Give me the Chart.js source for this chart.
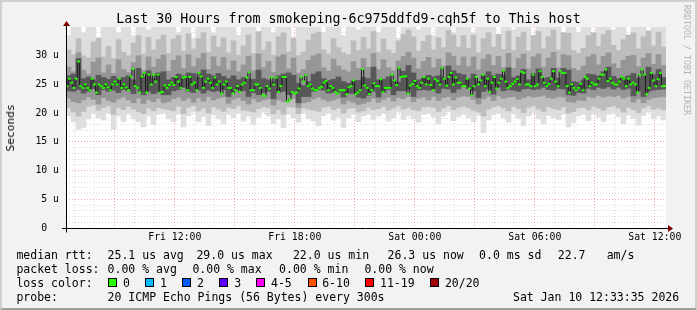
<!DOCTYPE html>
<html><head><meta charset="utf-8">
<script src="https://cdn.jsdelivr.net/npm/chart.js@4/dist/chart.umd.min.js"></script>
<style>
html,body{margin:0;padding:0;background:#f2f2f2;}
#wrap{position:relative;width:697px;height:310px;overflow:hidden;background:#f2f2f2;font-family:'DejaVu Sans Mono',monospace;color:#000;}
#c{position:absolute;left:0;top:0;}
#frame{position:absolute;left:0;top:0;width:697px;height:310px;box-sizing:border-box;border-top:2px solid #cfcfcf;border-left:2px solid #cfcfcf;border-right:2px solid #cfcfcf;border-bottom:2px solid #9e9e9e;pointer-events:none;}
.t{position:absolute;white-space:pre;font-size:11.5px;line-height:14px;}
#title{position:absolute;left:0;top:11px;width:697px;text-align:center;font-size:13.3px;line-height:16px;white-space:pre;}
#unit{position:absolute;left:11px;top:128px;font-size:11.2px;line-height:14px;white-space:pre;transform:translate(-50%,-50%) rotate(-90deg);}
#wm{position:absolute;left:682px;top:5px;font-size:8.3px;line-height:10px;writing-mode:vertical-rl;color:#b4b4b4;white-space:pre;}
.box{position:absolute;width:7px;height:7px;border:1px solid #000;}
</style></head>
<body>
<div id="wrap">
<canvas id="c" width="697" height="310"></canvas>
<div id="title">Last 30 Hours from smokeping-6c975ddfd9-cqh5f to This host</div>
<div id="unit">Seconds</div>
<div id="wm">RRDTOOL / TOBI OETIKER</div>
<div id="legend"></div>
<div id="frame"></div>
</div>
<script>
// ---- data ----
const startHour = 6 + 33/60 + 35/3600;   // Fri 06:33:35, hours since Fri 00:00
const spanHours = 30;
const xTickHours = [12, 18, 24, 30, 36];
const xTickLabels = ['Fri 12:00', 'Fri 18:00', 'Sat 00:00', 'Sat 06:00', 'Sat 12:00'];
const yTickValues = [0, 5, 10, 15, 20, 25, 30];
const yTickLabels = ['0  ', '5 u', '10 u', '15 u', '20 u', '25 u', '30 u'];

// median rtt (microseconds)
const medianRtt = [
 24.7,26.0,25.3,24.4,26.0,29.0,24.7,24.4,25.0,24.4,24.0,26.0,25.0,23.6,25.0,24.7,24.4,25.0,24.5,24.0,25.0,25.5,25.0,26.0,24.4,25.0,24.5,24.0,26.4,27.7,24.7,24.4,23.6,26.4,27.0,23.6,26.7,25.0,26.7,25.5,26.7,23.6,
 23.7,24.8,24.4,24.9,25.3,24.9,26.3,25.5,24.4,26.2,26.3,24.0,26.3,25.0,25.3,24.0,27.0,26.4,24.4,25.5,26.0,25.3,24.4,26.2,25.0,25.5,23.4,25.0,25.5,24.4,24.4,23.4,24.0,24.7,23.7,25.0,25.3,26.2,27.1,24.0,24.0,25.0,
 25.0,24.4,23.1,23.0,24.7,24.3,26.2,25.0,26.2,23.7,24.7,26.3,26.3,22.0,22.4,23.7,23.4,23.6,24.3,26.3,25.5,26.6,24.7,25.0,24.3,24.0,24.0,24.4,24.6,25.3,25.6,24.0,24.7,24.4,23.7,23.4,24.0,24.0,24.0,23.3,24.5,24.7,25.7,23.3,
 23.6,24.0,27.7,24.8,24.4,23.3,24.0,25.2,24.7,24.7,25.9,23.7,24.4,24.4,24.4,26.7,25.7,24.9,27.9,26.3,26.4,26.4,23.4,24.8,25.1,25.6,24.7,24.4,25.3,26.3,25.0,26.0,24.9,24.0,25.9,25.6,25.0,27.9,26.0,24.8,26.3,27.0,25.0,26.2,25.3,
 25.3,24.7,24.7,26.0,24.3,23.1,24.7,26.3,25.0,25.7,26.7,24.7,26.0,23.7,25.3,26.3,24.3,25.3,26.0,27.4,25.5,24.4,24.7,25.1,25.5,25.9,25.0,27.2,27.0,25.0,25.0,24.7,26.7,24.7,25.0,27.3,26.3,25.3,24.7,25.1,26.0,27.3,25.5,24.7,27.3,27.0,
 27.0,24.7,23.6,25.0,24.4,24.0,24.4,25.1,24.0,26.3,26.0,24.7,25.3,25.0,25.0,26.0,26.7,26.7,27.6,25.6,26.0,25.3,25.0,25.0,25.5,26.3,26.0,24.7,26.0,25.0,25.3,25.0,23.6,26.7,27.6,26.7,23.3,24.4,27.0,25.7,24.7,25.9,27.0,24.7,24.7
];

// smoke (spread of the 20 pings), 15-minute columns
const smokeMax = [
 33.5,36,36,34,36,36,33,36,36,35,34,36,36,33.5,36,36,34.5,36,36,36,
 36,36,34,36,36,33,36,36,36,34,36,36,35,36,33.5,36,36,36,34,36,
 36,34,36,36,36,33,36,36,35,36,36,34,36,36,36,33.5,36,36,34.5,36,
 36,36,34,36,36,36,33,36,36,36,34.5,36,36,33.5,36,36,36,34,36,36,
 36,34,36,36,36,36,33,36,36,34.5,36,36,36,33.5,36,36,35,36,36,34,
 36,36,34,36,36,33.5,36,36,36,34.5,36,36,33,36,36,36,34,36,36,35
];
const smokeHi2 = [
 31.0,30.2,33.0,30.0,29.6,32.4,33.1,29.8,31.6,29.5,32.8,30.6,30.0,32.2,33.5,30.3,33.2,31.0,32.8,33.6,
 30.4,32.9,33.5,30.8,33.8,31.2,33.0,34.0,30.6,33.4,31.5,33.1,30.5,32.6,30.1,31.7,33.6,30.4,34.2,31.0,
 32.4,30.1,33.3,34.0,30.7,33.1,30.0,30.6,32.7,33.8,34.1,31.0,30.3,33.0,31.4,30.5,30.2,32.6,30.9,33.2,
 31.2,34.2,30.6,32.9,31.0,30.4,32.6,33.7,34.5,33.3,30.8,32.5,33.5,31.0,33.1,31.4,34.4,33.6,31.5,33.5,
 31.3,33.6,30.5,33.0,34.0,31.5,33.7,31.1,34.3,30.9,33.2,34.1,30.8,33.5,34.2,31.2,33.3,34.5,31.0,34.0,
 33.9,30.9,30.4,31.3,33.5,34.0,31.6,33.7,34.4,31.8,30.9,32.8,33.6,34.0,31.2,33.3,34.3,31.7,34.1,31.5
];
const smokeHi3 = [
 28.0,27.2,30.5,27.5,26.8,28.9,29.6,27.0,28.4,26.9,29.3,27.6,27.1,28.8,30.0,27.4,29.8,28.0,29.4,30.1,
 27.3,29.2,30.0,27.8,30.2,28.1,29.5,30.4,27.6,29.8,28.2,29.7,27.5,29.1,27.2,28.4,29.9,27.4,30.3,27.9,
 29.0,27.1,29.8,30.2,27.7,29.6,27.0,27.6,29.2,30.0,30.3,27.9,27.3,29.4,28.2,27.5,27.2,29.0,27.8,29.5,
 28.0,30.4,27.6,29.3,27.9,27.4,29.1,29.9,30.6,29.6,27.7,29.0,29.7,27.9,29.4,28.2,30.5,29.9,28.3,29.8,
 28.1,29.8,27.5,29.4,30.2,28.3,29.9,27.9,30.4,27.8,29.5,30.3,27.7,29.8,30.3,28.0,29.6,30.6,27.9,30.2,
 30.0,27.8,27.4,28.2,29.8,30.2,28.4,29.9,30.5,28.6,27.8,29.2,29.9,30.1,28.1,29.6,30.4,28.5,30.2,28.3
];
const smokeHi4 = [
 26.5,26.8,29.5,26,26.3,25.8,26.6,26.2,25.9,26.4,26,26.2,26.5,25.8,27.8,26.3,27.4,26,27,27.2,
 25.8,26.2,26.8,26.5,27,26.9,26.3,27.5,26.8,26.5,26.9,26.4,26,26.5,25.8,26.2,26,25.9,27.5,26,
 25.8,25.4,26.5,26.8,27,26.6,25.2,24.8,25.5,26.8,27.2,26,25.7,25.9,26.3,25.5,25.2,25.6,25.7,26.2,
 26,28,25.8,25.9,26.3,25.6,25.4,27.3,28.3,27,25.8,26,26.6,26.3,26.5,26.2,28.2,27.4,26.9,26.7,
 26,26.8,25.5,26.4,27.2,26.5,26.8,26.6,27.9,26.2,26.5,27.6,25.8,26.9,27.7,26,26.2,27.8,26.1,27.8,
 27.5,25.5,25.3,25.8,26.8,26.7,26.4,27.2,28,26.4,26,26.2,26.5,26.9,26.1,26.7,28,26.7,27.6,26.2
];
const smokeLo4 = [
 23.9,23.8,24.1,23.5,23.8,24.2,23.2,24.1,23.8,24,23.6,24.1,23.9,23.4,24.2,23.2,23.8,23.4,23.7,23.2,
 23.2,23.9,24.1,24.5,23.8,23.6,24,23.5,24,23.8,23.9,24.1,22.9,23.8,24.1,23.9,22.9,23.6,23.2,23.6,
 23.8,22.5,23.6,23.8,23.2,23.8,21.8,22.9,22.9,23.8,24.2,24,23.5,23.6,23.8,22.8,23.5,23.4,22.8,22.6,
 23.1,23.8,22.8,23.6,24.1,23.2,23.9,23.9,24.1,22.9,24,24.1,24,24.3,23.5,24.3,24.2,23.6,24.2,24.6,
 24.3,23.9,22.7,23.8,24.2,23.3,24.5,23.9,24.1,24,23.8,24.2,24.3,24.1,24.2,24.5,24.1,24,24.3,24.2,
 23.2,23.1,23.6,23.5,24.3,24.1,24.5,24.3,24.6,24.2,24.5,24.1,24.3,23,23.9,22.9,23.8,24,24.1,24.2
];
const smokeLo3 = [
 22.6,22,21.8,22.3,22.8,22.4,21.6,22.7,22.2,21.9,22.5,22.8,22.3,21.8,22.6,21.7,22.4,22,22.6,21.8,
 22,22.5,22.8,22.2,22.6,21.9,22.7,22.1,22.9,22.3,22.6,22.8,21.7,22.4,22.7,22.2,21.6,22.5,22,22.3,
 22.5,21.4,22.3,22,22.4,22.6,21,21.8,22,22.5,22.8,22.4,22.1,22.3,22.6,21.6,22.2,21.9,21.5,21.7,
 22,22.6,21.9,22.4,22.8,22.1,22.7,22.5,22.9,22,22.6,22.8,22.3,22.9,22.2,22.7,22.9,22.3,22.8,23,
 22.9,22.4,21.6,22.5,22.9,22.2,23,22.6,22.8,22.9,22.4,22.7,23,22.8,22.9,23.1,22.7,22.6,22.9,22.8,
 22,21.9,22.3,22.2,22.9,22.7,23.1,22.8,23,22.9,23.1,22.6,22.9,21.9,22.5,21.8,22.4,22.7,22.8,22.9
];
const smokeLo2 = [
 21,20.2,19.5,20.3,21.2,21.4,20.5,21,21.3,19.8,21,20.6,21.2,20.7,20.3,19.9,20.9,20.4,21,20.8,
 20.6,20.4,21.2,19.9,21,21.3,20.4,20.9,20,21.1,20.7,20.3,21,20.8,21.3,20.5,20.4,20.2,20.8,21.1,
 20.9,19.9,20.6,19.8,21.1,21,19.9,20.9,20.7,20.5,20.3,21,21.2,20.6,20.9,20,20.8,20.9,20.2,20.4,
 21,20.6,20.8,21.2,20.5,20.9,21.3,20.7,21,20.6,20.4,21.1,21.2,21,20.3,20.9,21.3,20.6,21,21.2,
 20.9,20.5,20.2,19.5,20.7,21.1,21.3,20.9,20.4,21.2,20.8,20.1,21,21.3,20.7,20.3,21.1,20.8,20.6,21.1,
 20,20.3,20.9,21,20.6,21.2,20.9,20.5,21.1,21.3,20.9,20.2,21,20.6,20.1,20.9,21.3,20.7,20.9,20.6
];
const smokeMin = [
 19.5,18.5,17.2,17.5,19,20,19.2,18.8,20,17.2,19.5,18.5,19.8,19,18.5,17.6,19.5,18,19.8,20,
 19,18.5,19.8,17.6,19.5,20.2,18.5,19.4,17.8,19.7,19,18.2,19.8,19.2,20,18.6,19.5,18,19.3,20.2,
 19.5,18.2,19,17.5,19.8,19.2,18.4,20,19,18.6,17.8,19.5,20,18.8,19.3,17.5,19.2,19.8,18.5,19.5,
 19.8,18.9,19.5,20,18.6,19.2,20.2,18.9,19.5,19,18.4,19.8,20,19.3,18.2,19.5,20.3,18.7,19.4,19.8,
 19.2,18.5,19.6,16.6,18.8,19.7,20,19.2,18.4,19.9,19.1,17.8,19.5,20.1,19,18.1,19.6,19.2,18.9,19.8,
 17.6,18.4,19.5,19.8,18.7,19.9,19.3,18.5,19.8,20.1,19.4,18.2,19.7,19.1,17.9,19.6,20.2,19,19.5,18.8
];

// legend texts
const statRow1 = [[16.4,'median rtt:'],[107.6,'25.1 us avg'],[196.4,'29.0 us max'],[292.9,'22.0 us min'],[387.6,'26.3 us now'],[479.1,'0.0 ms sd'],[557.8,'22.7'],[606.7,'am/s']];
const statRow2 = [[16.4,'packet loss:'],[107.6,'0.00 % avg'],[192.4,'0.00 % max'],[279.1,'0.00 % min'],[364.4,'0.00 % now']];
const lossLabels = ['0','1','2','3','4-5','6-10','11-19','20/20'];
const lossColors = ['#26ff00','#00b8ff','#0059ff','#5e00ff','#ff00ff','#ff5500','#ff0000','#a10000'];
const lossBoxX = [108,145.3,182.2,219,256.4,307.6,365.3,430.2];
const lossTextX = [123,160,196.9,234.2,271,322.2,380,444.9];
const probeRow = [[16.4,'probe:'],[107.6,'20 ICMP Echo Pings (56 Bytes) every 300s'],[513,'Sat Jan 10 12:33:35 2026']];

// ---- legend (HTML text) ----
const leg = document.getElementById('legend');
function addText(x, top, s){ const d=document.createElement('div'); d.className='t'; d.style.left=x+'px'; d.style.top=top+'px'; d.textContent=s; leg.appendChild(d); }
statRow1.forEach(([x,s])=>addText(x,247.5,s));
statRow2.forEach(([x,s])=>addText(x,261.5,s));
addText(16.4,275.5,'loss color:');
lossLabels.forEach((s,i)=>{ const b=document.createElement('div'); b.className='box'; b.style.left=lossBoxX[i]+'px'; b.style.top='278px'; b.style.background=lossColors[i]; leg.appendChild(b); addText(lossTextX[i],275.5,s); });
probeRow.forEach(([x,s])=>addText(x,289.5,s));

// ---- chart ----
const smokeX = i => startHour + (i + 0.5) * spanHours / smokeMin.length;
const medX = i => startHour + (i + 0.5) * spanHours / medianRtt.length;
const band = (lo, hi) => lo.map((v, i) => ({x: smokeX(i), y: [v, hi[i]]}));

const GRID = 'rgba(150,150,150,0.35)';
const MGRID = 'rgba(235,60,60,0.45)';

const bgPlugin = {
  id: 'canvasBg',
  beforeDraw(chart){ const a=chart.chartArea, c=chart.ctx; c.save(); c.fillStyle='#ffffff'; c.fillRect(a.left,a.top,a.right-a.left,a.bottom-a.top); c.restore(); }
};
const axesPlugin = {
  id: 'rrdAxes',
  afterDraw(chart){
    const a=chart.chartArea, c=chart.ctx;
    const y0 = Math.round(chart.scales.y.getPixelForValue(0)) + 0.5;
    const x0 = Math.round(a.left) + 0.5;
    c.save();
    c.strokeStyle='#000'; c.lineWidth=1;
    c.beginPath(); c.moveTo(a.left-4, y0); c.lineTo(a.right+3, y0); c.stroke();
    c.beginPath(); c.moveTo(x0, y0+4); c.lineTo(x0, a.top-3); c.stroke();
    c.fillStyle='#800000';
    c.beginPath(); c.moveTo(a.right+2, y0-3.5); c.lineTo(a.right+7, y0); c.lineTo(a.right+2, y0+3.5); c.closePath(); c.fill();
    c.beginPath(); c.moveTo(x0-3.5, a.top-1); c.lineTo(x0, a.top-6); c.lineTo(x0+3.5, a.top-1); c.closePath(); c.fill();
    c.restore();
  }
};

const hourTicks = [];
for (let h = Math.ceil(startHour); h <= startHour + spanHours; h++) hourTicks.push(h);
const unitTicks = [];
for (let v = 0; v < 35; v++) unitTicks.push(v);

new Chart(document.getElementById('c'), {
  type: 'bar',
  data: { datasets: [
    {type:'bar', data: medianRtt.map((v,i)=>({x:medX(i), y:[v-0.12, v+0.12]})), backgroundColor:'#26ff00', barThickness:2.3, inflateAmount:0.3, grouped:false, order:0},
    {type:'line', data: medianRtt.map((v,i)=>({x:medX(i), y:v})), borderColor:'#1a1a1a', borderWidth:1, pointRadius:0, stepped:'middle', order:1},
    {type:'bar', data: band(smokeLo4, smokeHi4), backgroundColor:'#585858', barThickness:5, inflateAmount:0.35, grouped:false, order:2},
    {type:'bar', data: band(smokeLo3, smokeHi3), backgroundColor:'#969696', barThickness:5, inflateAmount:0.35, grouped:false, order:3},
    {type:'bar', data: band(smokeLo2, smokeHi2), backgroundColor:'#bdbdbd', barThickness:5, inflateAmount:0.35, grouped:false, order:4},
    {type:'bar', data: band(smokeMin, smokeMax), backgroundColor:'#dedede', barThickness:5, inflateAmount:0.35, grouped:false, order:5}
  ]},
  options: {
    responsive:false, animation:false, events:[],
    layout:{padding:{left:0, right:31, top:27, bottom:62}},
    plugins:{legend:{display:false}, tooltip:{enabled:false}, title:{display:false}},
    scales:{
      x:{type:'linear', min:startHour, max:startHour+spanHours, offset:false, z:1,
        afterFit: s => { s.height = 20; },
        afterBuildTicks: s => { s.ticks = hourTicks.map(h => ({value:h})); },
        grid:{offset:false, drawTicks:false, lineWidth:1, color: c => (c.tick && c.tick.value % 3 === 0) ? MGRID : GRID},
        border:{display:false, dash:[1,2]},
        ticks:{autoSkip:false, maxRotation:0, minRotation:0, padding:4, color:'#000', font:{family:'DejaVu Sans Mono', size:9.8},
          callback: v => { const k = xTickHours.indexOf(v); return k >= 0 ? xTickLabels[k] : ''; }}
      },
      y:{type:'linear', min:0, max:35, z:1,
        afterFit: s => { s.width = 66; },
        afterBuildTicks: s => { s.ticks = unitTicks.map(v => ({value:v})); },
        grid:{drawTicks:false, lineWidth:1, color: c => (c.tick && c.tick.value % 5 === 0) ? MGRID : GRID},
        border:{display:false, dash:[1,2]},
        ticks:{autoSkip:false, padding:7, color:'#000', font:{family:'DejaVu Sans Mono', size:9.8},
          callback: v => { const k = yTickValues.indexOf(v); return k >= 0 ? yTickLabels[k] : ''; }}
      }
    }
  },
  plugins:[bgPlugin, axesPlugin]
});
</script>
</body></html>
